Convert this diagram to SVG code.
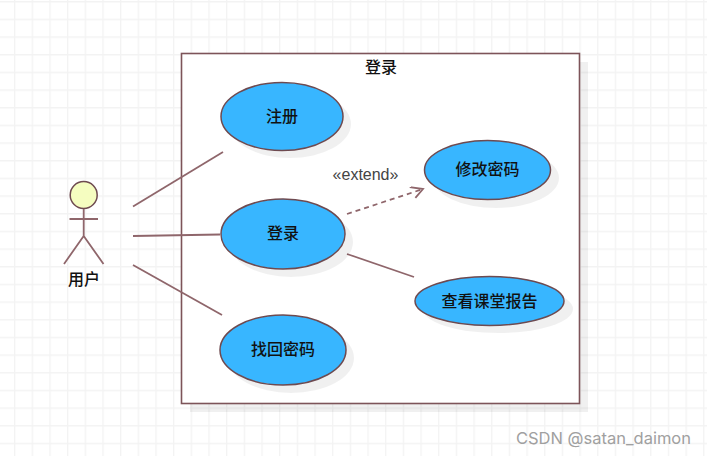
<svg xmlns="http://www.w3.org/2000/svg" width="707" height="456" viewBox="0 0 707 456">
<style>
.uc{fill:#38b6ff;stroke:#6e4a50;stroke-width:1.5}
.sh{fill:#000;fill-opacity:.06}
.ln{fill:none;stroke:#8f666b;stroke-width:1.8}
.t{font-family:"Noto Sans CJK SC","Liberation Sans",sans-serif;font-size:16px;font-weight:500;fill:#111;text-anchor:middle}
</style>
<defs>
<pattern id="grid" width="17.67" height="17.67" patternUnits="userSpaceOnUse" x="14" y="1">
<path d="M.7 0V17.67M0 .7H17.67" fill="none" stroke="#f3f3f3" stroke-width="1.3"/>
</pattern>
<marker id="open" markerWidth="16" markerHeight="14" refX="13" refY="6" orient="auto" markerUnits="userSpaceOnUse">
<path d="M1 0L13 6L3 12" fill="none" stroke="#8f666b" stroke-width="1.8"/>
</marker>
</defs>
<rect width="707" height="456" fill="#fff"/>
<rect width="707" height="456" fill="url(#grid)"/>
<g id="system">
<rect class="sh" x="190" y="62" width="398" height="350"/>
<rect x="181.500" y="53.500" width="398" height="350" fill="#fff" stroke="#7d5459" stroke-width="1.6"/>
<text class="t" x="381" y="73">登录</text>
</g>
<g id="connectors">
<path class="ln" d="M133 206.500L223 152"/>
<path class="ln" d="M133 236L220 234.500"/>
<path class="ln" d="M133 265L222 315"/>
<path class="ln" d="M347 214L423 189" stroke-dasharray="5 4" marker-end="url(#open)"/>
<path class="ln" d="M347 254L414 277"/>
</g>
<g id="actor-user">
<circle cx="83.700" cy="195" r="13.500" fill="#f5fdc0" stroke="#6e4a50" stroke-width="1.5"/>
<path class="ln" d="M83.700 209V236M69.500 219H98M83.700 236L64 264M83.700 236L103.500 264" stroke-width="1.500"/>
<text class="t" x="84" y="285">用户</text>
</g>
<g id="uc-register">
<ellipse class="sh" cx="290" cy="124" rx="61" ry="34"/>
<ellipse class="uc" cx="282" cy="116.500" rx="61" ry="34"/>
<text class="t" x="282" y="121.500">注册</text>
</g>
<g id="uc-login">
<ellipse class="sh" cx="291" cy="242" rx="62" ry="35"/>
<ellipse class="uc" cx="283" cy="234" rx="62" ry="35"/>
<text class="t" x="283" y="239">登录</text>
</g>
<g id="uc-recover">
<ellipse class="sh" cx="291" cy="358" rx="63" ry="35"/>
<ellipse class="uc" cx="283" cy="350" rx="63" ry="35"/>
<text class="t" x="283" y="355">找回密码</text>
</g>
<g id="uc-change">
<ellipse class="sh" cx="496" cy="178" rx="63" ry="30"/>
<ellipse class="uc" cx="487.500" cy="170" rx="63" ry="29.500"/>
<text class="t" x="487.500" y="175">修改密码</text>
</g>
<g id="uc-report">
<ellipse class="sh" cx="498" cy="309" rx="75" ry="24"/>
<ellipse class="uc" cx="489.500" cy="301" rx="74.500" ry="24.500"/>
<text class="t" x="489.500" y="306.500">查看课堂报告</text>
</g>
<text x="365.500" y="180" font-family="'Liberation Sans',sans-serif" font-size="16" fill="#444" text-anchor="middle">«extend»</text>
<text x="603.500" y="443.500" font-family="Inter,'Liberation Sans',sans-serif" font-size="16.500" fill="#a0a0a0" text-anchor="middle">CSDN @satan_daimon</text>
</svg>
